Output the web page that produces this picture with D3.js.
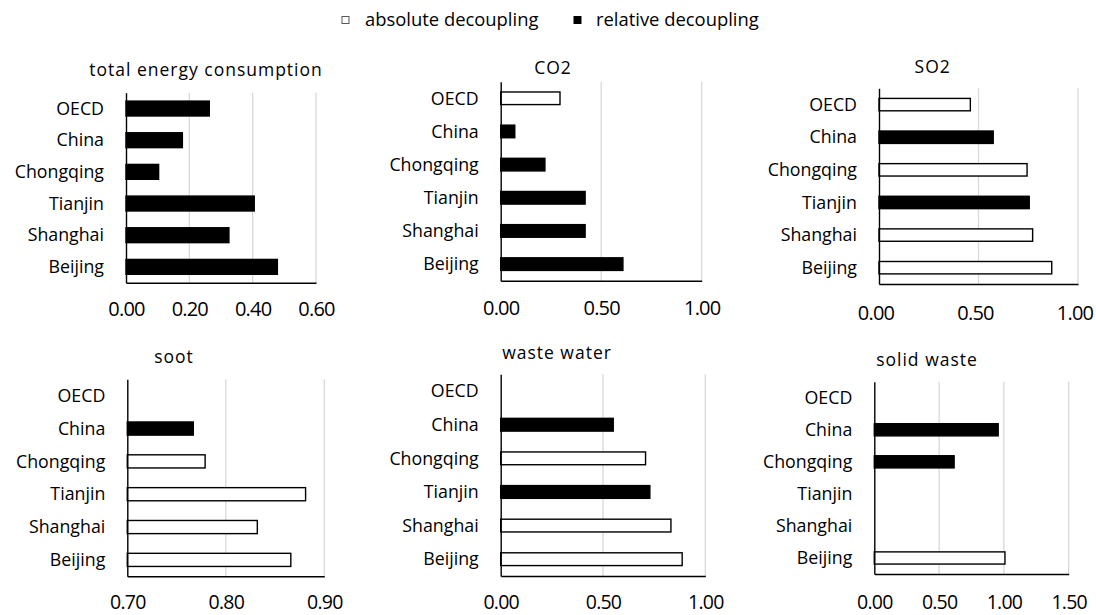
<!DOCTYPE html>
<html><head><meta charset="utf-8">
<script src="https://cdn.jsdelivr.net/npm/d3@7/dist/d3.min.js"></script>
<style>
html,body{margin:0;padding:0;background:#fff;}
svg{display:block;}
text{font-family:"Open Sans",sans-serif;fill:#000;}
</style></head>
<body>
<svg id="chart" width="1096" height="615"></svg>
<script>
// ---- data ----
const categories = ["OECD","China","Chongqing","Tianjin","Shanghai","Beijing"];
const legendLabels = ["absolute decoupling","relative decoupling"];
// "a" = absolute decoupling, "r" = relative decoupling, null = no bar
const energyValues = [0.263,0.178,0.103,0.405,0.325,0.478];
const energyTypes  = ["r","r","r","r","r","r"];
const co2Values = [0.295,0.07,0.22,0.42,0.42,0.608];
const co2Types  = ["a","r","r","r","r","r"];
const so2Values = [0.459,0.574,0.744,0.755,0.772,0.868];
const so2Types  = ["a","r","a","r","a","a"];
const sootValues = [null,0.767,0.779,0.881,0.832,0.866];
const sootTypes  = [null,"r","a","a","a","a"];
const wasteWaterValues = [null,0.55,0.708,0.729,0.832,0.887];
const wasteWaterTypes  = [null,"r","a","r","a","a"];
const solidWasteValues = [null,0.956,0.616,null,null,1.008];
const solidWasteTypes  = [null,"r","r",null,null,"a"];
const energyTicks = [0,0.2,0.4,0.6];
const co2Ticks = [0,0.5,1];
const so2Ticks = [0,0.5,1];
const sootTicks = [0.7,0.8,0.9];
const wasteWaterTicks = [0,0.5,1];
const solidWasteTicks = [0,0.5,1,1.5];

const panels = [
  {title:"total energy consumption", values:energyValues, types:energyTypes, ticks:energyTicks},
  {title:"CO2", values:co2Values, types:co2Types, ticks:co2Ticks},
  {title:"SO2", values:so2Values, types:so2Types, ticks:so2Ticks},
  {title:"soot", values:sootValues, types:sootTypes, ticks:sootTicks},
  {title:"waste water", values:wasteWaterValues, types:wasteWaterTypes, ticks:wasteWaterTicks},
  {title:"solid waste", values:solidWasteValues, types:solidWasteTypes, ticks:solidWasteTicks}
];

// ---- layout ----
const layout = [
  {x0:126,  x1:316,   y0:92.7,  y1:282.7, pad:0.53, tickY:26.5, tfs:20,   tdx:0,    tx:206,   ty:70},
  {x0:500.7,x1:701.7, y0:81.7,  y1:280.7, pad:0.62, tickY:27.5, tfs:20,   tdx:0,    tx:553,   ty:68},
  {x0:879,  x1:1078,  y0:88.3,  y1:284,   pad:0.62, tickY:28.5, tfs:20,   tdx:-3.5, tx:932.7, ty:66.7},
  {x0:127.3,x1:324.3, y0:379.3, y1:576.3, pad:0.60, tickY:26,   tfs:19.5, tdx:0,    tx:174,   ty:357},
  {x0:500.7,x1:705.3, y0:374.3, y1:576,   pad:0.62, tickY:26,   tfs:19.5, tdx:0,    tx:557,   ty:353},
  {x0:874.3,x1:1068.7,y0:381.7, y1:574,   pad:0.62, tickY:28,   tfs:19.5, tdx:0,    tx:927,   ty:360}
];

const svg = d3.select("#chart");

panels.forEach((p,i)=>{
  const L = layout[i];
  const dom = [p.ticks[0], p.ticks[p.ticks.length-1]];
  const x = d3.scaleLinear().domain(dom).range([L.x0, L.x1]);
  const y = d3.scaleBand().domain(categories).range([L.y0, L.y1]).paddingInner(L.pad).paddingOuter(L.pad/2);
  const g = svg.append("g");

  // gridlines
  g.selectAll("line.grid").data(p.ticks.filter(t=>t>dom[0]))
    .join("line").attr("class","grid")
    .attr("x1",d=>x(d)).attr("x2",d=>x(d))
    .attr("y1",L.y0).attr("y2",L.y1)
    .attr("stroke","#d9d9d9").attr("stroke-width",1.3);

  // bars
  const rows = categories.map((c,k)=>({c, v:p.values[k], t:p.types[k]})).filter(d=>d.v!=null);
  g.selectAll("rect.bar").data(rows).join("rect").attr("class","bar")
    .attr("x",x(dom[0]))
    .attr("y",d=>y(d.c))
    .attr("width",d=>x(d.v)-x(dom[0]))
    .attr("height",y.bandwidth())
    .attr("fill",d=>d.t==="r"?"#000":"#fff")
    .attr("stroke","#000").attr("stroke-width",1.4);

  // bottom axis
  const ax = g.append("g").attr("transform",`translate(0,${L.y1})`)
    .call(d3.axisBottom(x).tickValues(p.ticks).tickFormat(d3.format(".2f")).tickSize(0));
  ax.select(".domain").attr("stroke","#000").attr("stroke-width",1.4);
  ax.attr("font-family",null).attr("font-size",null);
  ax.selectAll("text").style("font-size",L.tfs+"px").style("letter-spacing","-0.8px")
    .attr("x",L.tdx).attr("y",L.tickY).attr("dy","0.35em");

  // left axis
  const ay = g.append("g").attr("transform",`translate(${L.x0},0)`)
    .call(d3.axisLeft(y).tickSize(0).tickPadding(22));
  ay.select(".domain").attr("stroke","#000").attr("stroke-width",1.4);
  ay.attr("font-family",null).attr("font-size",null);
  ay.selectAll("text").style("font-size","17.8px").attr("dy","0.35em");

  // title
  g.append("text").attr("x",L.tx).attr("y",L.ty).attr("dy","0.35em")
    .attr("text-anchor","middle").style("font-size","17.5px").style("letter-spacing","1px")
    .text(p.title);
});

// legend
const legend = [
  {label:legendLabels[0], fill:"#fff", sx:342, tx:365},
  {label:legendLabels[1], fill:"#000", sx:574, tx:596}
];
const lg = svg.append("g");
lg.selectAll("rect").data(legend).join("rect")
  .attr("x",d=>d.sx).attr("y",16.5).attr("width",7).attr("height",7)
  .attr("fill",d=>d.fill).attr("stroke",d=>d.fill==="#fff"?"#595959":"#000").attr("stroke-width",1);
lg.selectAll("text").data(legend).join("text")
  .attr("x",d=>d.tx).attr("y",20).attr("dy","0.35em")
  .style("font-size","18.4px").text(d=>d.label);
</script>
</body></html>
